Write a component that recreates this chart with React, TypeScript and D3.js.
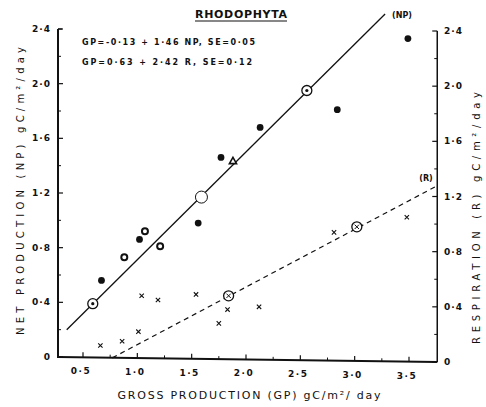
import * as d3 from "d3";

// axis ticks
const GP_TICKS = [0.5, 1.0, 1.5, 2.0, 2.5, 3.0, 3.5];
const GP_LABELS = ["0·5", "1·0", "1·5", "2·0", "2·5", "3·0", "3·5"];
const NP_TICKS = [0, 0.4, 0.8, 1.2, 1.6, 2.0, 2.4];
const NP_LABELS = ["0", "0·4", "0·8", "1·2", "1·6", "2·0", "2·4"];
const R_TICKS = [0, 0.4, 0.8, 1.2, 1.6, 2.0, 2.4];
const R_LABELS = ["0", "0·4", "0·8", "1·2", "1·6", "2·0", "2·4"];

// net production (GP, NP)
const npFilled: [number, number][] = [
  [0.67, 0.56], [1.02, 0.86], [1.56, 0.98], [1.77, 1.46],
  [2.13, 1.68], [2.84, 1.81], [3.49, 2.33],
];
const npRing: [number, number][] = [[0.88, 0.73], [1.07, 0.92], [1.21, 0.81]];
const npTriangle: [number, number][] = [[1.88, 1.43]];
const npMean: [number, number][] = [[0.59, 0.39], [2.56, 1.95]];
const npOpen: [number, number][] = [[1.59, 1.17]];
const npLine: [number, number][] = [[0.35, 0.2], [3.28, 2.51]];

// respiration (GP, R)
const rCross: [number, number][] = [
  [0.66, 0.12], [0.86, 0.15], [1.01, 0.22], [1.04, 0.48], [1.19, 0.45],
  [1.54, 0.49], [1.75, 0.28], [1.83, 0.38], [2.12, 0.4], [2.81, 0.94], [3.48, 1.05],
];
const rMean: [number, number][] = [[1.84, 0.48], [3.02, 0.98]];
const rLine: [number, number][] = [[0.77, 0.03], [3.74, 1.27]];

const GP_MIN = 0.27;
const GP_MAX = 3.76;

const FONT = "'DejaVu Sans', sans-serif";
const INK = "#111";

export default function App() {
  const x = d3.scaleLinear().domain([0.5, 3.5]).range([83, 409]);
  const yL = d3.scaleLinear().domain([0, 2.4]).range([357, 29]);
  const yR = d3.scaleLinear().domain([0, 2.4]).range([362, 31]);

  const left = x(GP_MIN);
  const right = x(GP_MAX);
  const baseY = (px: number) => yL(0) + ((yR(0) - yL(0)) * (px - left)) / (right - left);

  const lineL = d3.line<[number, number]>().x((d) => x(d[0])).y((d) => yL(d[1]));
  const lineR = d3.line<[number, number]>().x((d) => x(d[0])).y((d) => yR(d[1]));
  const cross = d3.symbol(d3.symbolTimes, 14)();
  const tri = d3.symbol(d3.symbolTriangle, 22)();

  const minorNP = d3.range(0.2, 2.4, 0.4);
  const minorGP = d3.range(0.75, 3.75, 0.5);

  return (
    <svg
      width={486}
      height={407}
      style={{ position: "absolute", left: 0, top: 0, background: "#fff" }}
      fontFamily={FONT}
    >
      {/* title */}
      <text x={241} y={18} textAnchor="middle" fontSize={11} fontWeight="bold" fill={INK} textLength={92}>
        RHODOPHYTA
      </text>
      <line x1={195} x2={287} y1={21} y2={21} stroke={INK} strokeWidth={1.2} />

      {/* equations */}
      <text x={82} y={45} fontSize={8} fontWeight="bold" fill={INK} textLength={173} lengthAdjust="spacing">
        GP=-0·13 + 1·46 NP,  SE=0·05
      </text>
      <text x={82} y={65} fontSize={8} fontWeight="bold" fill={INK} textLength={170} lengthAdjust="spacing">
        GP=0·63 + 2·42 R,  SE=0·12
      </text>

      {/* axes */}
      <line x1={left} x2={left} y1={yL(2.4)} y2={yL(0) + 1} stroke={INK} strokeWidth={2} />
      <line x1={left} x2={left + 4} y1={yL(2.4)} y2={yL(2.4)} stroke={INK} strokeWidth={1.2} />
      <line x1={right} x2={right} y1={yR(2.4)} y2={yR(0)} stroke={INK} strokeWidth={1.5} />
      <line x1={left} x2={right} y1={baseY(left)} y2={baseY(right)} stroke={INK} strokeWidth={1.8} />

      {/* left ticks */}
      {NP_TICKS.map((t, i) => (
        <g key={`l${t}`}>
          <line x1={left} x2={left + 5} y1={yL(t)} y2={yL(t)} stroke={INK} strokeWidth={1.2} />
          <text x={51} y={yL(t) + 3} textAnchor="end" fontSize={9} fontWeight="bold" fill={INK} letterSpacing={1}>
            {NP_LABELS[i]}
          </text>
        </g>
      ))}
      {minorNP.map((t) => (
        <line key={`lm${t}`} x1={left} x2={left + 3} y1={yL(t)} y2={yL(t)} stroke={INK} strokeWidth={1} />
      ))}

      {/* right ticks */}
      {R_TICKS.map((t, i) => (
        <g key={`r${t}`}>
          <line x1={right - 5} x2={right} y1={yR(t)} y2={yR(t)} stroke={INK} strokeWidth={1.2} />
          <text x={444} y={yR(t) + 3} fontSize={9} fontWeight="bold" fill={INK} letterSpacing={1}>
            {R_LABELS[i]}
          </text>
        </g>
      ))}
      {minorNP.map((t) => (
        <line key={`rm${t}`} x1={right - 3} x2={right} y1={yR(t)} y2={yR(t)} stroke={INK} strokeWidth={1} />
      ))}

      {/* bottom ticks */}
      {GP_TICKS.map((t, i) => (
        <g key={`b${t}`}>
          <line x1={x(t)} x2={x(t)} y1={baseY(x(t))} y2={baseY(x(t)) - 5} stroke={INK} strokeWidth={1.2} />
          <text x={x(t) - 2} y={baseY(x(t)) + 17} textAnchor="middle" fontSize={9} fontWeight="bold" fill={INK} letterSpacing={1.5}>
            {GP_LABELS[i]}
          </text>
        </g>
      ))}
      {minorGP.map((t) => (
        <line key={`bm${t}`} x1={x(t)} x2={x(t)} y1={baseY(x(t))} y2={baseY(x(t)) - 3} stroke={INK} strokeWidth={1} />
      ))}

      {/* axis titles */}
      <text x={0} y={0} transform={`translate(24,${191}) rotate(-90)`} textAnchor="middle" fontSize={10} fill={INK} textLength={288} lengthAdjust="spacing">
        NET PRODUCTION   (NP)  gC/m²/day
      </text>
      <text x={0} y={0} transform={`translate(480,${218}) rotate(-90)`} textAnchor="middle" fontSize={10} fill={INK} textLength={252} lengthAdjust="spacing">
        RESPIRATION   (R)   gC/m²/day
      </text>
      <text x={249} y={399} textAnchor="middle" fontSize={11} fill={INK} textLength={263} lengthAdjust="spacing">
        GROSS PRODUCTION (GP) gC/m²/ day
      </text>

      {/* regression lines */}
      <path d={lineL(npLine) ?? ""} fill="none" stroke={INK} strokeWidth={1.3} />
      <path d={lineR(rLine) ?? ""} fill="none" stroke={INK} strokeWidth={1.2} strokeDasharray="5,4" />
      <text x={402} y={18} textAnchor="middle" fontSize={8} fontWeight="bold" fill={INK}>(NP)</text>
      <text x={426} y={181} textAnchor="middle" fontSize={8} fontWeight="bold" fill={INK}>(R)</text>

      {/* respiration points */}
      {rCross.map((d, i) => (
        <path key={`rc${i}`} d={cross ?? ""} transform={`translate(${x(d[0])},${yR(d[1])})`} fill="none" stroke={INK} strokeWidth={1.1} />
      ))}
      {rMean.map((d, i) => (
        <g key={`rmn${i}`} transform={`translate(${x(d[0])},${yR(d[1])})`}>
          <circle r={5} fill="#fff" stroke={INK} strokeWidth={1.3} />
          <path d={cross ?? ""} fill="none" stroke={INK} strokeWidth={1} />
        </g>
      ))}

      {/* net production points */}
      {npFilled.map((d, i) => (
        <circle key={`nf${i}`} cx={x(d[0])} cy={yL(d[1])} r={3.4} fill={INK} />
      ))}
      {npRing.map((d, i) => (
        <circle key={`nr${i}`} cx={x(d[0])} cy={yL(d[1])} r={3} fill="#fff" stroke={INK} strokeWidth={2} />
      ))}
      {npTriangle.map((d, i) => (
        <path key={`nt${i}`} d={tri ?? ""} transform={`translate(${x(d[0])},${yL(d[1])})`} fill="#fff" stroke={INK} strokeWidth={1.6} />
      ))}
      {npMean.map((d, i) => (
        <g key={`nm${i}`} transform={`translate(${x(d[0])},${yL(d[1])})`}>
          <circle r={5} fill="#fff" stroke={INK} strokeWidth={1.3} />
          <circle r={1.6} fill={INK} />
        </g>
      ))}
      {npOpen.map((d, i) => (
        <circle key={`no${i}`} cx={x(d[0])} cy={yL(d[1])} r={6} fill="#fff" stroke={INK} strokeWidth={1} />
      ))}
    </svg>
  );
}
